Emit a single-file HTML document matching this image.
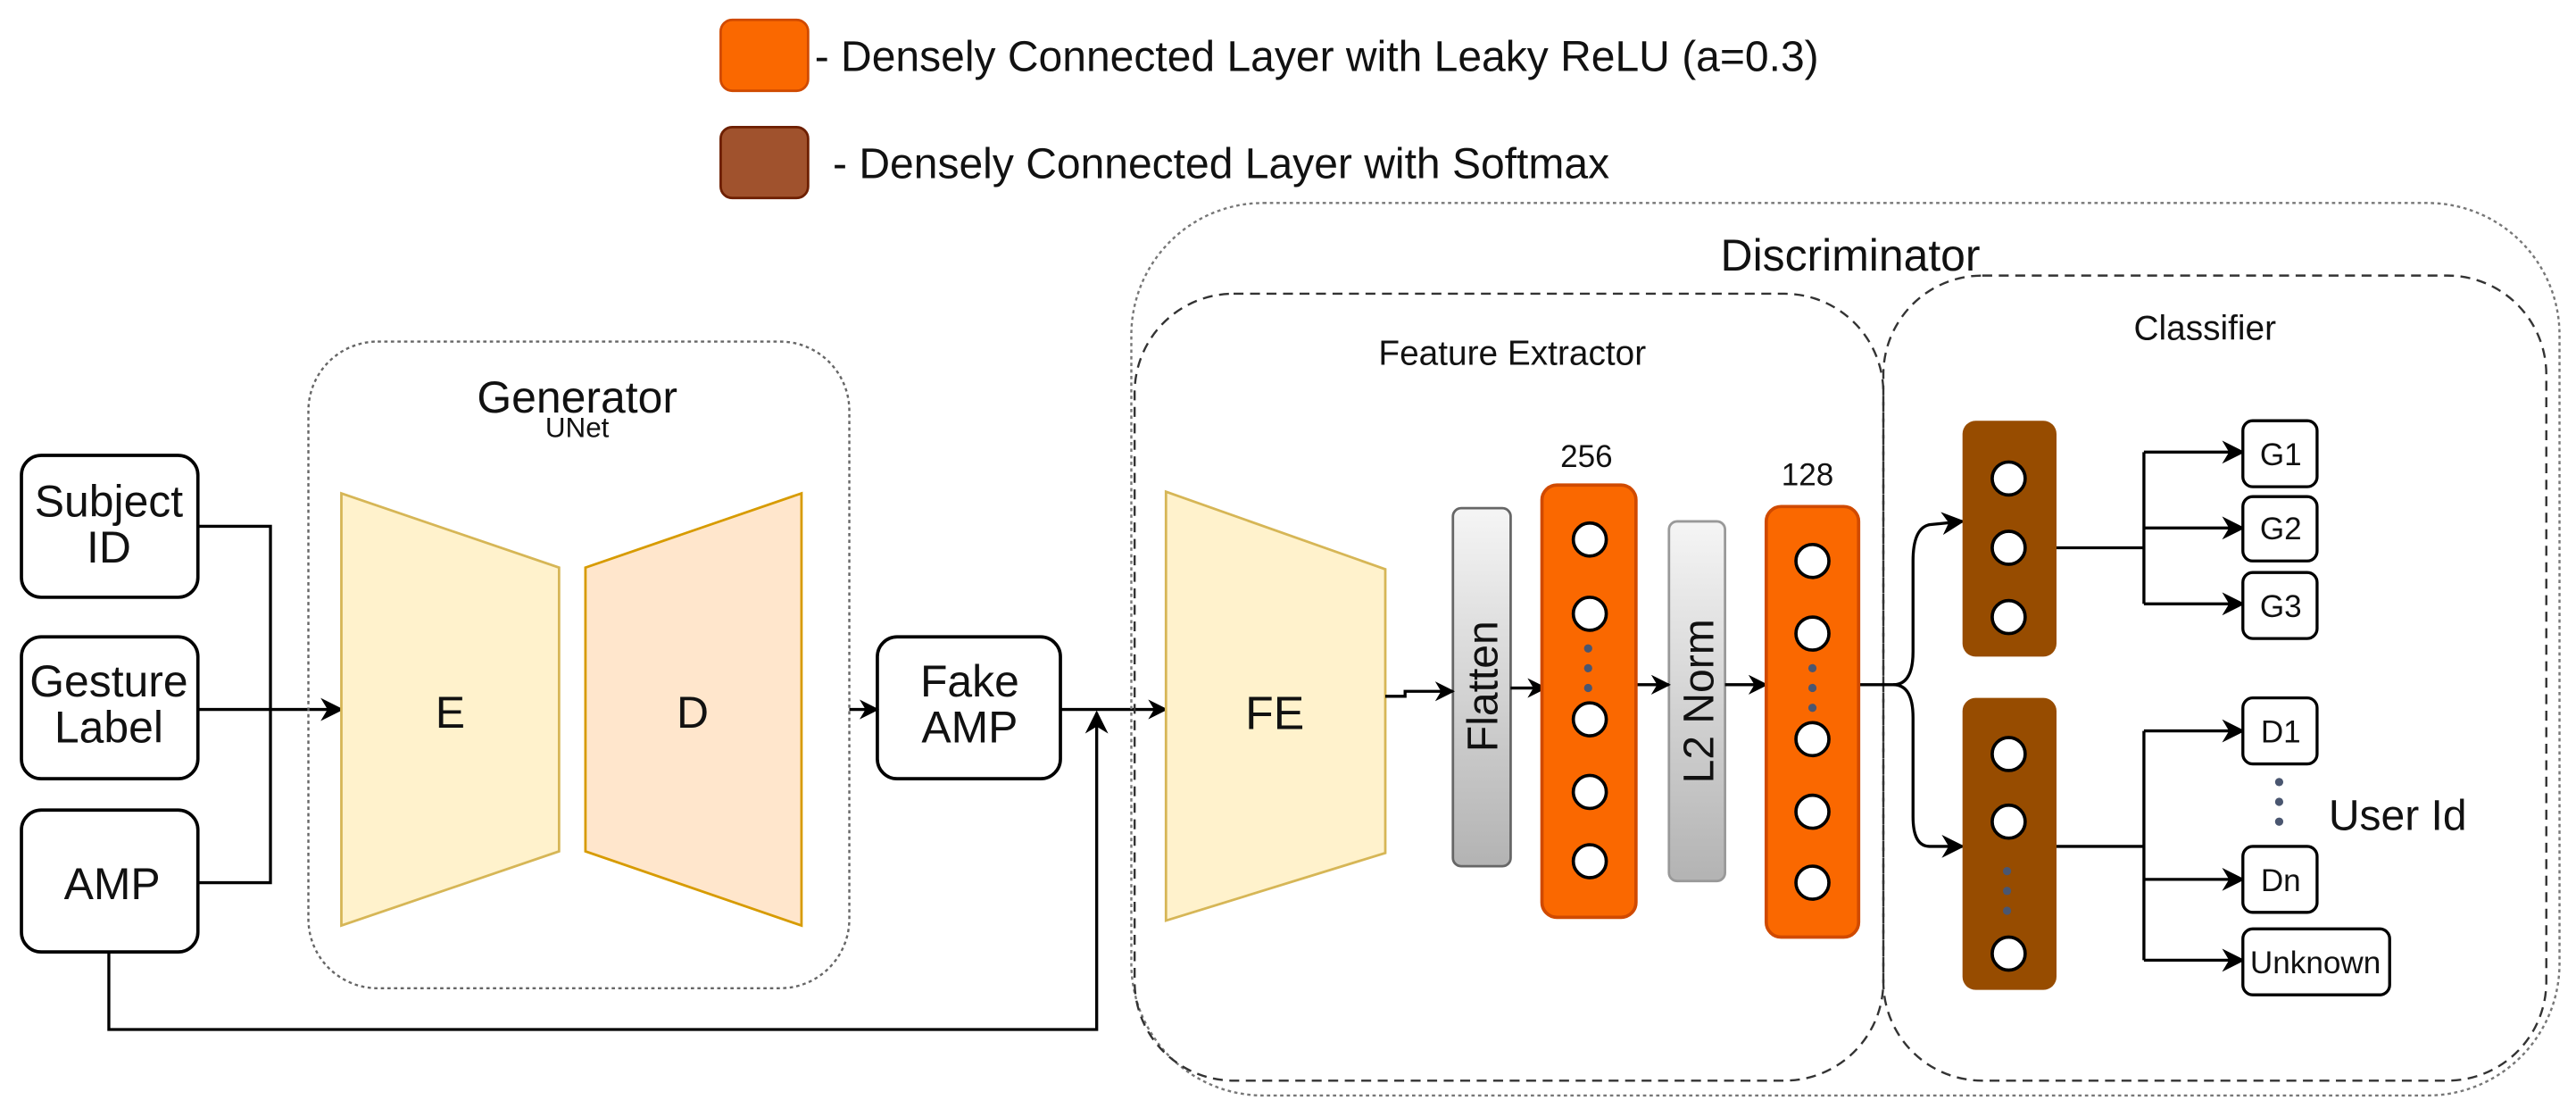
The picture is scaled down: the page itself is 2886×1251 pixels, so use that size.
<!DOCTYPE html>
<html><head><meta charset="utf-8"><style>
html,body{margin:0;padding:0;background:#fff;}
svg{display:block;}
text{font-family:"Liberation Sans",sans-serif;fill:#111;}
</style></head><body>
<svg width="2886" height="1251" viewBox="0 0 1562 677" xmlns="http://www.w3.org/2000/svg">
<defs>
<marker id="a" viewBox="0 0 10 10" refX="9" refY="5" markerWidth="12" markerHeight="12" orient="auto" markerUnits="userSpaceOnUse"><path d="M0,0 L10,5 L0,10 L3,5 z" fill="#000"/></marker>
<marker id="b" viewBox="0 0 10 10" refX="9" refY="5" markerWidth="14" markerHeight="14" orient="auto" markerUnits="userSpaceOnUse"><path d="M0,0 L10,5 L0,10 L3,5 z" fill="#000"/></marker>
<linearGradient id="g" x1="0" y1="0" x2="0" y2="1"><stop offset="0" stop-color="#f5f5f5"/><stop offset="1" stop-color="#b3b3b3"/></linearGradient>
</defs>
<!-- legend -->
<rect x="437" y="12" width="53" height="43" rx="7" fill="#FA6800" stroke="#D04A00" stroke-width="1.5"/>
<text x="494" y="43" font-size="26">- Densely Connected Layer with Leaky ReLU (a=0.3)</text>
<rect x="437" y="77" width="53" height="43" rx="7" fill="#A0522D" stroke="#6D1F00" stroke-width="1.5"/>
<text x="505" y="108" font-size="26">- Densely Connected Layer with Softmax</text>

<!-- inputs -->
<g fill="#fff" stroke="#000" stroke-width="2">
<rect x="13" y="276" width="107" height="86" rx="12"/>
<rect x="13" y="386" width="107" height="86" rx="12"/>
<rect x="13" y="491" width="107" height="86" rx="12"/>
<rect x="532" y="386" width="111" height="86" rx="12"/>
</g>
<g font-size="27" text-anchor="middle">
<text x="66" y="313">Subject</text><text x="66" y="341">ID</text>
<text x="66" y="422">Gesture</text><text x="66" y="450">Label</text>
<text x="68" y="545">AMP</text>
<text x="588" y="422">Fake</text><text x="588" y="450">AMP</text>
</g>
<g fill="none" stroke="#000" stroke-width="1.8">
<polyline points="120,319 164,319 164,535 120,535"/>
<line x1="120" y1="430" x2="207" y2="430" marker-end="url(#b)"/>
<line x1="515" y1="430" x2="532" y2="430" marker-end="url(#a)"/>
<line x1="643" y1="430" x2="707" y2="430" marker-end="url(#a)"/>
<polyline points="66,577 66,624 665,624 665,432" marker-end="url(#b)"/>
</g>

<!-- generator -->
<rect x="187" y="207" width="328" height="392" rx="42" fill="none" stroke="#666" stroke-width="1.3" stroke-dasharray="2,2"/>
<text x="350" y="250" font-size="27" text-anchor="middle">Generator</text>
<text x="350" y="265" font-size="17" text-anchor="middle">UNet</text>
<polygon points="207,299 339,344 339,516 207,561" fill="#FFF2CC" stroke="#D6B656" stroke-width="1.5"/>
<polygon points="355,344 486,299 486,561 355,516" fill="#FFE6CC" stroke="#D79B00" stroke-width="1.5"/>
<text x="273" y="441" font-size="27" text-anchor="middle">E</text>
<text x="420" y="441" font-size="27" text-anchor="middle">D</text>

<!-- discriminator -->
<rect x="686" y="123" width="866" height="541" rx="80" fill="none" stroke="#777" stroke-width="1.3" stroke-dasharray="2,2"/>
<text x="1122" y="164" font-size="27" text-anchor="middle" fill="#222">Discriminator</text>
<rect x="688" y="178" width="454" height="477" rx="60" fill="none" stroke="#333" stroke-width="1.3" stroke-dasharray="6,4"/>
<text x="917" y="221" font-size="21" text-anchor="middle">Feature Extractor</text>
<rect x="1142" y="167" width="402" height="488" rx="60" fill="none" stroke="#333" stroke-width="1.3" stroke-dasharray="6,4"/>
<text x="1337" y="206" font-size="21" text-anchor="middle">Classifier</text>

<polygon points="707,298 840,345 840,517 707,558" fill="#FFF2CC" stroke="#D6B656" stroke-width="1.5"/>
<text x="773" y="442" font-size="28" text-anchor="middle">FE</text>

<rect x="881" y="308" width="35" height="217" rx="5" fill="url(#g)" stroke="#666" stroke-width="1.5"/>
<text transform="translate(908,416) rotate(-90)" font-size="26" text-anchor="middle" fill="#222">Flatten</text>
<rect x="1012" y="316" width="34" height="218" rx="5" fill="url(#g)" stroke="#999" stroke-width="1.5"/>
<text transform="translate(1039,425) rotate(-90)" font-size="26" text-anchor="middle" fill="#222">L2 Norm</text>

<g fill="none" stroke="#000" stroke-width="1.8">
<polyline points="840,422 852,422 852,419 881,419" marker-end="url(#a)"/>
<line x1="916" y1="417" x2="937" y2="417" marker-end="url(#a)"/>
<line x1="992" y1="415" x2="1012" y2="415" marker-end="url(#a)"/>
<line x1="1046" y1="415" x2="1071" y2="415" marker-end="url(#a)"/>
<path d="M1127,415 L1148,415 Q1160,415 1160,395 L1160,340 Q1160,320 1170,318 L1190,316" marker-end="url(#b)"/>
<path d="M1148,415 Q1160,415 1160,435 L1160,495 Q1160,513 1170,513 L1190,513" marker-end="url(#b)"/>
</g>

<text x="962" y="283" font-size="19" text-anchor="middle">256</text>
<rect x="935" y="294" width="57" height="262" rx="9" fill="#FA6800" stroke="#D04A00" stroke-width="2"/>
<text x="1096" y="294" font-size="19" text-anchor="middle">128</text>
<rect x="1071" y="307" width="56" height="261" rx="9" fill="#FA6800" stroke="#D04A00" stroke-width="2"/>

<rect x="1190" y="255" width="57" height="143" rx="8" fill="#974C00"/>
<rect x="1190" y="423" width="57" height="177" rx="8" fill="#974C00"/>

<g fill="#fff" stroke="#000" stroke-width="2">
<circle cx="964" cy="327" r="10"/><circle cx="964" cy="372" r="10"/><circle cx="964" cy="436" r="10"/><circle cx="964" cy="480" r="10"/><circle cx="964" cy="522" r="10"/>
<circle cx="1099" cy="340" r="10"/><circle cx="1099" cy="384" r="10"/><circle cx="1099" cy="448" r="10"/><circle cx="1099" cy="492" r="10"/><circle cx="1099" cy="535" r="10"/>
<circle cx="1218" cy="290" r="10"/><circle cx="1218" cy="332" r="10"/><circle cx="1218" cy="374" r="10"/>
<circle cx="1218" cy="457" r="10"/><circle cx="1218" cy="498" r="10"/><circle cx="1218" cy="578" r="10"/>
</g>
<g fill="#4a5670">
<circle cx="963" cy="393" r="2.5"/><circle cx="963" cy="405" r="2.5"/><circle cx="963" cy="417" r="2.5"/>
<circle cx="1099" cy="405" r="2.5"/><circle cx="1099" cy="417" r="2.5"/><circle cx="1099" cy="429" r="2.5"/>
<circle cx="1217" cy="528" r="2.5"/><circle cx="1217" cy="540" r="2.5"/><circle cx="1217" cy="552" r="2.5"/>
<circle cx="1382" cy="474" r="2.5"/><circle cx="1382" cy="486" r="2.5"/><circle cx="1382" cy="498" r="2.5"/>
</g>

<g fill="none" stroke="#000" stroke-width="1.8">
<line x1="1247" y1="332" x2="1300" y2="332"/>
<line x1="1300" y1="274" x2="1300" y2="366"/>
<line x1="1300" y1="274" x2="1360" y2="274" marker-end="url(#b)"/>
<line x1="1300" y1="320" x2="1360" y2="320" marker-end="url(#b)"/>
<line x1="1300" y1="366" x2="1360" y2="366" marker-end="url(#b)"/>
<line x1="1247" y1="513" x2="1300" y2="513"/>
<line x1="1300" y1="443" x2="1300" y2="582"/>
<line x1="1300" y1="443" x2="1360" y2="443" marker-end="url(#b)"/>
<line x1="1300" y1="533" x2="1360" y2="533" marker-end="url(#b)"/>
<line x1="1300" y1="582" x2="1360" y2="582" marker-end="url(#b)"/>
</g>
<g fill="#fff" stroke="#000" stroke-width="1.8">
<rect x="1360" y="255" width="45" height="40" rx="6"/>
<rect x="1360" y="301" width="45" height="39" rx="6"/>
<rect x="1360" y="347" width="45" height="40" rx="6"/>
<rect x="1360" y="423" width="45" height="40" rx="6"/>
<rect x="1360" y="513" width="45" height="40" rx="6"/>
<rect x="1360" y="563" width="89" height="40" rx="6"/>
</g>
<g font-size="19" text-anchor="middle">
<text x="1383" y="282">G1</text><text x="1383" y="327">G2</text><text x="1383" y="374">G3</text>
<text x="1383" y="450">D1</text><text x="1383" y="540">Dn</text><text x="1404" y="590">Unknown</text>
</g>
<text x="1412" y="503" font-size="26">User Id</text>
</svg>
</body></html>
